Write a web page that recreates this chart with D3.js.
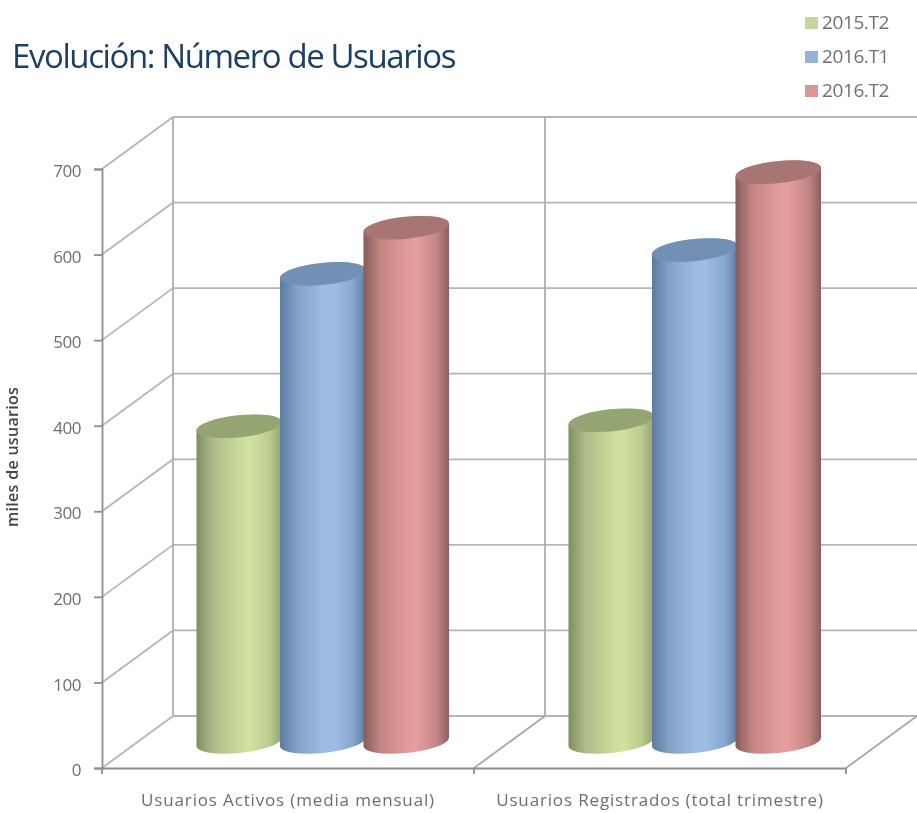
<!DOCTYPE html>
<html><head><meta charset="utf-8">
<script src="https://cdn.jsdelivr.net/npm/d3@7"></script>
<style>html,body{margin:0;padding:0;background:#fff;overflow:hidden}text{font-family:"Open Sans",sans-serif}</style>
</head><body><svg id="c" width="917" height="813"></svg>
<script>
const categories = ["Usuarios Activos (media mensual)", "Usuarios Registrados (total trimestre)"];
const seriesNames = ["2015.T2", "2016.T1", "2016.T2"];
const values2015T2 = [369, 376];
const values2016T1 = [547, 575];
const values2016T2 = [601, 666];
const seriesValues = [values2015T2, values2016T1, values2016T2];
const yTicks = [0, 100, 200, 300, 400, 500, 600, 700];
const legendColors = ["#c3d69b", "#95b3d7", "#d99694"];
const lidColors = ["#93a572", "#7190b3", "#a87474"];
const bodyStops = [
  ["#7f8e5f", "#aebd8a", "#c8da98", "#d1e3a0", "#bccc90", "#93a273"],
  ["#5c7a9e", "#83a2c8", "#9cbbe0", "#9fbee3", "#88a7cc", "#607da0"],
  ["#875b5b", "#c48585", "#e09b9b", "#e69e9e", "#c58686", "#8c5f5f"]
];
const stopOffsets = [0, .2, .5, .62, .85, 1];

const svg = d3.select("#c");
const defs = svg.append("defs");
const soft = defs.append("filter").attr("id", "soft").attr("x", "-5%").attr("y", "-5%").attr("width", "110%").attr("height", "110%");
soft.append("feGaussianBlur").attr("stdDeviation", 0.6);
bodyStops.forEach((st, i) => {
  const g = defs.append("linearGradient").attr("id", "g" + i);
  st.forEach((c, j) => g.append("stop").attr("offset", stopOffsets[j]).attr("stop-color", c));
});

const y = d3.scaleLinear().domain([0, 700]).range([768, 169]);
const x0 = d3.scalePoint().domain(d3.range(categories.length + 1)).range([102, 846]);
const xBand = d3.scaleBand().domain(categories).range([102, 846]);
const depthX = 71, depthY = 52;
const backX = [x0(0) + depthX, 545];
const right = 917;

const root = svg.append("g").attr("filter", "url(#soft)");
const grid = root.append("g").attr("fill", "none");
yTicks.forEach(t => {
  const yy = y(t);
  grid.append("line").attr("x1", x0(0)).attr("y1", yy).attr("x2", x0(0) + depthX).attr("y2", yy - depthY).attr("stroke", "#b5b5b5").attr("stroke-width", 1.8);
  grid.append("line").attr("x1", x0(0) + depthX).attr("y1", yy - depthY).attr("x2", right).attr("y2", yy - depthY).attr("stroke", "#b5b5b5").attr("stroke-width", 1.8);
});
backX.forEach(bx => grid.append("line").attr("x1", bx).attr("x2", bx).attr("y1", y(0) - depthY).attr("y2", y(700) - depthY).attr("stroke", "#adadad").attr("stroke-width", 1.8));
[[x0(1), 545], [x0(2), right]].forEach(([a, b]) => grid.append("line").attr("x1", a).attr("y1", y(0)).attr("x2", b).attr("y2", y(0) - depthY).attr("stroke", "#a8a8a8").attr("stroke-width", 1.8));

// cylinders
const sBand = d3.scaleBand().domain(seriesNames).paddingInner(0).paddingOuter(0);
const rx = 43, ry = 11, tilt = -6;
const th = tilt * Math.PI / 180;
const tt = Math.atan2(-ry * Math.sin(th), rx * Math.cos(th));
const px = rx * Math.cos(tt) * Math.cos(th) - ry * Math.sin(tt) * Math.sin(th);
const py = rx * Math.cos(tt) * Math.sin(th) + ry * Math.sin(tt) * Math.cos(th);
const cyl = root.append("g");
categories.forEach((cat, ci) => {
  const mid = xBand(cat) + xBand.bandwidth() / 2 + depthX / 2;
  sBand.range([mid - 126, mid + 124.5]);
  seriesNames.forEach((s, si) => {
    const v = seriesValues[si][ci];
    const cx = sBand(s) + sBand.bandwidth() / 2;
    const yb = y(0) - depthY / 2, yt = y(v) - depthY / 2;
    const d = `M${cx - px},${yt - py}L${cx - px},${yb - py}A${rx},${ry} ${tilt} 0 0 ${cx + px},${yb + py}L${cx + px},${yt + py}A${rx},${ry} ${tilt} 0 0 ${cx - px},${yt - py}Z`;
    cyl.append("path").attr("d", d).attr("fill", `url(#g${si})`);
    cyl.append("ellipse").attr("cx", cx).attr("cy", yt).attr("rx", rx).attr("ry", ry)
      .attr("transform", `rotate(${tilt} ${cx} ${yt})`).attr("fill", lidColors[si]);
  });
});

// front axes
const yAxis = root.append("g").attr("transform", `translate(${x0(0)},0)`).call(d3.axisLeft(y).tickValues(yTicks).tickSize(8).tickPadding(13));
yAxis.selectAll("path,line").attr("stroke", "#8e8e8e").attr("stroke-width", 1.8);
yAxis.selectAll("text").attr("font-size", 17).attr("fill", "#6e6e6e").attr("letter-spacing", -0.5).attr("dy", "0.45em");
const xAxis = root.append("g").attr("transform", `translate(0,${y(0)})`).call(d3.axisBottom(xBand).tickSize(0).tickPadding(22));
xAxis.select("path").attr("stroke", "#8e8e8e").attr("stroke-width", 1.8);
xAxis.selectAll("text").attr("font-size", 17).attr("fill", "#6e6e6e").attr("letter-spacing", 0.85).attr("dy", "0.95em");
x0.domain().forEach(i => root.append("line").attr("x1", x0(i)).attr("x2", x0(i)).attr("y1", y(0)).attr("y2", y(0) + 6).attr("stroke", "#8e8e8e").attr("stroke-width", 1.8));

// titles
root.append("text").attr("x", 12).attr("y", 68).attr("font-size", 33).attr("fill", "#1f3f63").attr("letter-spacing", -1.41).text("Evolución: Número de Usuarios");
root.append("text").attr("transform", "translate(18,527) rotate(-90)").attr("font-size", 16).attr("font-weight", 600).attr("fill", "#444").attr("letter-spacing", 0.3).text("miles de usuarios");

// legend
const legendY = d3.scalePoint().domain(seriesNames).range([23, 91]);
seriesNames.forEach((s, i) => {
  root.append("rect").attr("x", 805).attr("y", legendY(s) - 6).attr("width", 13).attr("height", 12).attr("fill", legendColors[i]);
  root.append("text").attr("x", 822).attr("y", legendY(s) + 6).attr("font-size", 19).attr("fill", "#707070").attr("letter-spacing", -0.4).text(s);
});
</script></body></html>
